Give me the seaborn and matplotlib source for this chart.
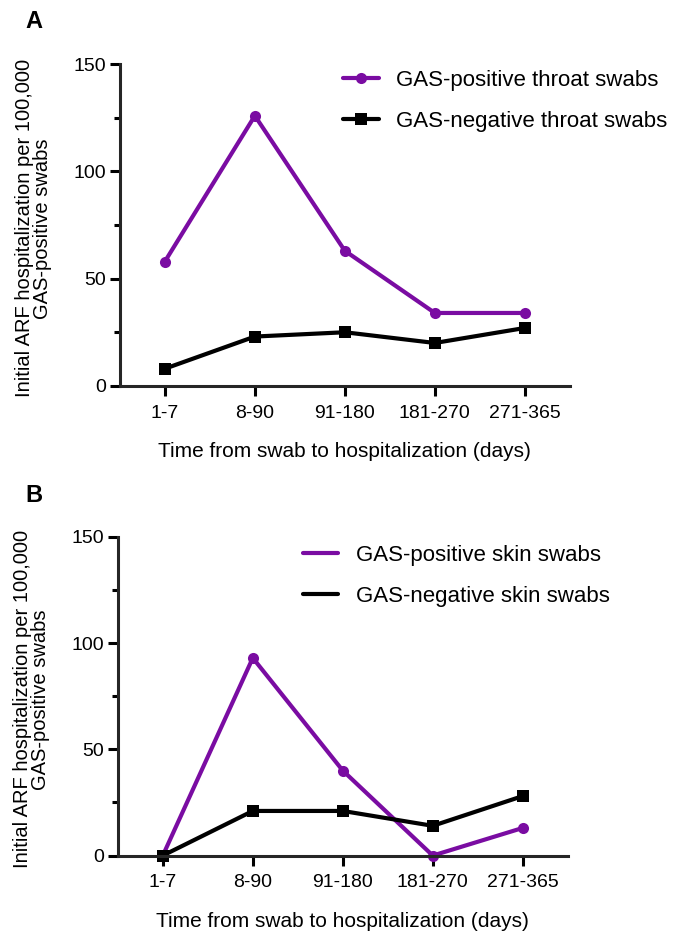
import matplotlib
matplotlib.use('Agg')
import matplotlib.pyplot as plt
from matplotlib.lines import Line2D
from matplotlib.ticker import MultipleLocator
import seaborn as sns
import pandas as pd

# ----------------------
# DATA
# ----------------------
intervals = ['1-7', '8-90', '91-180', '181-270', '271-365']
throat_pos = [58, 126, 63, 34, 34]
throat_neg = [8, 23, 25, 20, 27]
skin_pos = [0, 93, 40, 0, 13]
skin_neg = [0, 21, 21, 14, 28]

PURPLE = '#7a0ca2'
BLACK = '#000000'
YLABEL = 'Initial ARF hospitalization per 100,000\nGAS-positive swabs'
XLABEL = 'Time from swab to hospitalization (days)'

sns.set_style('ticks')
plt.rcParams['font.family'] = ['Liberation Sans', 'DejaVu Sans']
plt.rcParams['text.color'] = 'black'
plt.rcParams['axes.labelcolor'] = 'black'
plt.rcParams['xtick.color'] = 'black'
plt.rcParams['ytick.color'] = 'black'


def draw_panel(ax, pos, neg, labels, legend_markers, legend_xy):
    df = pd.DataFrame({'interval': intervals, 'pos': pos, 'neg': neg})
    sns.lineplot(data=df, x='interval', y='pos', ax=ax, color=PURPLE, lw=3,
                 marker='o', markersize=8, markeredgewidth=0, clip_on=False, sort=False)
    sns.lineplot(data=df, x='interval', y='neg', ax=ax, color=BLACK, lw=3,
                 marker='s', markersize=8, markeredgewidth=0, clip_on=False, sort=False)

    ax.set_xlim(-0.5, 4.5)
    ax.set_ylim(0, 150)
    ax.yaxis.set_major_locator(MultipleLocator(50))
    ax.yaxis.set_minor_locator(MultipleLocator(25))
    for s in ['top', 'right']:
        ax.spines[s].set_visible(False)
    for s in ['left', 'bottom']:
        ax.spines[s].set_linewidth(2.2)
    ax.tick_params(axis='both', which='major', width=2.2, length=7.5, labelsize=14)
    ax.tick_params(axis='y', which='minor', width=2.2, length=4)
    ax.tick_params(axis='y', pad=2.5)
    ax.tick_params(axis='x', pad=6)
    ax.set_xlabel(XLABEL, fontsize=15, labelpad=15)
    ax.set_ylabel(YLABEL, fontsize=14.5, linespacing=0.98)
    ax.yaxis.set_label_coords(-0.15, 0.49)

    mk = ['o', 's'] if legend_markers else [None, None]
    handles = [Line2D([], [], color=PURPLE, lw=3, marker=mk[0], markersize=8, markeredgewidth=0),
               Line2D([], [], color=BLACK, lw=3, marker=mk[1], markersize=8, markeredgewidth=0)]
    ax.legend(handles, labels, loc='upper left', bbox_to_anchor=legend_xy, frameon=False,
              fontsize=16, handlelength=1.6, handletextpad=0.8, labelspacing=0.9,
              borderpad=0, borderaxespad=0)


fig = plt.figure(figsize=(6.89, 9.32), dpi=100)
ax_a = fig.add_axes([0.174, 0.586, 0.653, 0.345])
ax_b = fig.add_axes([0.171, 0.082, 0.653, 0.342])

draw_panel(ax_a, throat_pos, throat_neg,
           ['GAS-positive throat swabs', 'GAS-negative throat swabs'], True, (0.496, 0.983))
draw_panel(ax_b, skin_pos, skin_neg,
           ['GAS-positive skin swabs', 'GAS-negative skin swabs'], False, (0.411, 0.975))

fig.text(0.037, 0.97, 'A', fontsize=17, fontweight='bold')
fig.text(0.037, 0.4614, 'B', fontsize=17, fontweight='bold')

fig.savefig('out.png', dpi=100)
